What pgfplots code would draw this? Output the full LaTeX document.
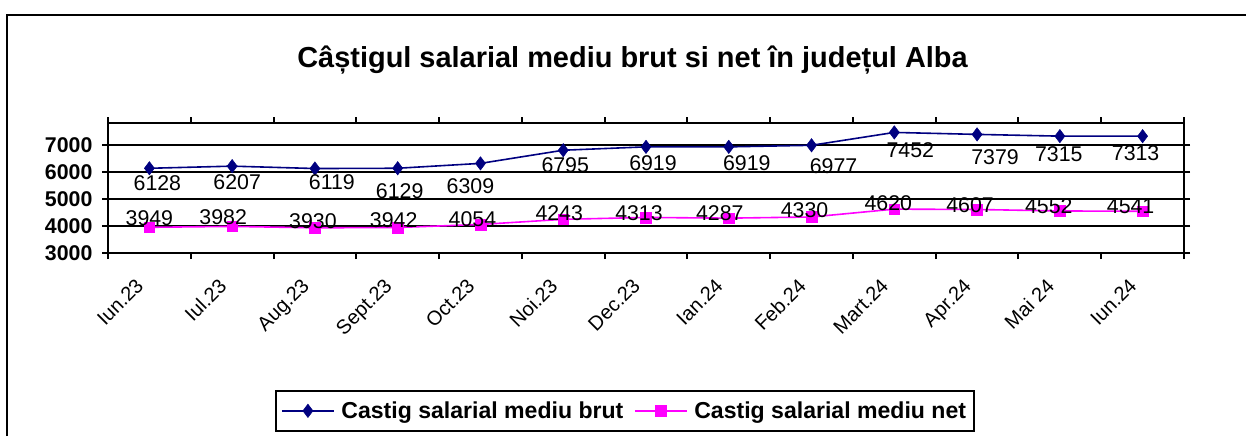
\documentclass[border=0pt]{standalone}
\usepackage{pgfplots}
\pgfplotsset{compat=1.18}
\usepackage{pgfplotstable}
\usepackage{fontspec}
\setmainfont{Liberation Sans}
\definecolor{navyb}{RGB}{0,0,128}
\definecolor{magn}{RGB}{255,0,255}
\pgfplotstableread{
i brut bdx bdy net ndx ndy
0 6128 8 -14.5 3949 0 9
1 6207 5 -16 3982 -9 9.5
2 6119 17 -14 3930 -2 7
3 6129 2 -23 3942 -4 7.6
4 6309 -10 -23 4054 -8 5.5
5 6795 2 -14.5 4243 -4 6
6 6919 7 -16 4313 -7 4.5
7 6919 18 -16 4287 -9 5
8 6977 22 -21 4330 -7 7
9 7452 16 -18 4620 -6 6
10 7379 18 -23 4607 -7 4.6
11 7315 -1 -18.5 4552 -11 5
12 7313 -7 -16.5 4541 -12 5
}\datatab
\begin{document}
\begin{tikzpicture}
\path[use as bounding box] (0,0) rectangle (934.5pt,327pt);
\draw[line width=1.5pt] (5.6pt,0) -- (5.6pt,315.75pt) -- (934.5pt,315.75pt);
\node[font=\bfseries\fontsize{21.7pt}{25pt}\selectfont] at (474.4pt,282pt) {Câștigul salarial mediu brut si net în județul Alba};
\begin{axis}[
  at={(81pt,137.25pt)}, anchor=south west,
  scale only axis, width=807pt, height=97.5pt,
  xmin=-0.5, xmax=12.5, ymin=3000, ymax=7800,
  xtick={0,...,12},
  xticklabels={Iun.23,Iul.23,Aug.23,Sept.23,Oct.23,Noi.23,Dec.23,Ian.24,Feb.24,Mart.24,Apr.24,Mai 24,Iun.24},
  minor xtick={-0.5,0.5,...,12.5},
  major x tick style={draw=none},
  minor x tick style={black, line width=1.5pt},
  minor tick length=4.5pt,
  ytick={3000,4000,5000,6000,7000},
  ytick style={black, line width=1.5pt},
  major tick length=4.5pt,
  tick align=outside,
  ymajorgrids, grid style={black, line width=1.5pt},
  axis line style={line width=1.5pt},
  /pgf/number format/.cd, 1000 sep={}, assume math mode=true, /pgfplots/.cd,
  yticklabel style={font=\bfseries\fontsize{16pt}{18pt}\selectfont, anchor=east, inner sep=0pt, xshift=-7pt},
  xticklabel style={font=\fontsize{15pt}{17pt}\selectfont, inner sep=0pt, anchor=north east, xshift=-11pt, yshift=-13.5pt, rotate=45},
  clip=false,
  legend columns=2,
  legend style={at={(0.1552,-1.0538)}, anchor=north west, draw=black, line width=1.2pt,
    font=\bfseries\fontsize{17.3pt}{20pt}\selectfont, inner xsep=4pt, inner ysep=6pt,
    /tikz/every odd column/.append style={column sep=3pt},
    /tikz/every even column/.append style={column sep=6pt}},
  legend image code/.code={\draw[mark repeat=2,mark phase=2] plot coordinates {(0pt,0pt) (19.5pt,0pt) (39pt,0pt)};},
]
\addplot[navyb, line width=1.2pt, mark=diamond*, mark size=5pt,
  mark options={solid, fill=navyb, draw=navyb, line width=0.4pt},
  point meta=explicit symbolic, nodes near coords,
  visualization depends on={\thisrow{bdx}\as\dx},
  visualization depends on={\thisrow{bdy}\as\dy},
  nodes near coords style={anchor=center, inner sep=0pt, text=black, font=\fontsize{16pt}{18pt}\selectfont, xshift=\dx*0.75pt, yshift=\dy*0.75pt}]
  table[x=i, y=brut, meta=brut]{\datatab};
\addlegendentry{Castig salarial mediu brut}
\addplot[magn, line width=1.2pt, mark=square*, mark size=4pt,
  mark options={solid, fill=magn, draw=magn, line width=0.4pt},
  point meta=explicit symbolic, nodes near coords,
  visualization depends on={\thisrow{ndx}\as\dx},
  visualization depends on={\thisrow{ndy}\as\dy},
  nodes near coords style={anchor=center, inner sep=0pt, text=black, font=\fontsize{16pt}{18pt}\selectfont, xshift=\dx*0.75pt, yshift=\dy*0.75pt}]
  table[x=i, y=net, meta=net]{\datatab};
\addlegendentry{Castig salarial mediu net}
\end{axis}
\end{tikzpicture}
\end{document}
